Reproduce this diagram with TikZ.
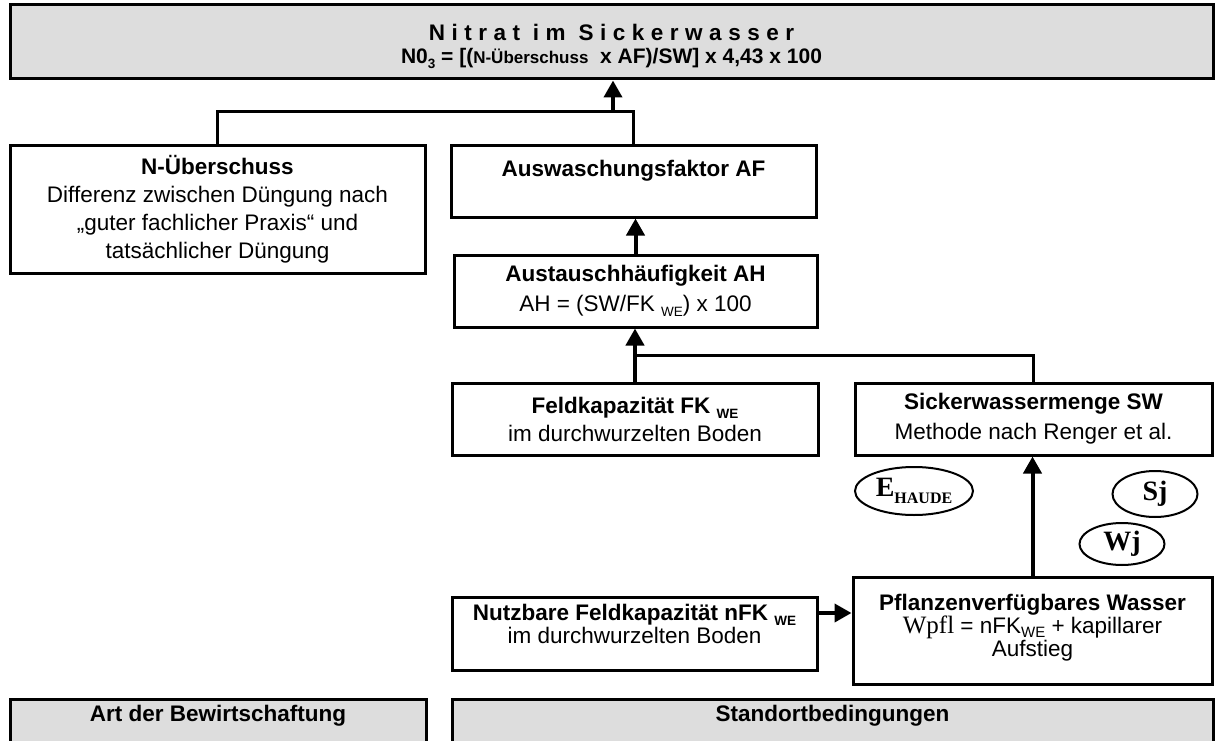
\documentclass[tikz,border=0pt]{standalone}
\usepackage{fontspec}
\setmainfont{Liberation Sans}
\newfontfamily\timesfont{Liberation Serif}
\usetikzlibrary{arrows.meta,shapes.geometric}
\definecolor{panelgray}{HTML}{DDDDDD}
% small lowered index such as "WE"
\newcommand{\lowidx}[1]{\raisebox{-0.45ex}{\fontsize{13.5}{13.5}\selectfont #1}}

\begin{document}
\begin{tikzpicture}[x=1pt,y=-1pt,
  box/.style={draw=black, line width=3pt, align=center, inner sep=0pt,
    font=\fontsize{22.5}{28}\selectfont},
  panel/.style={box, fill=panelgray},
  link/.style={line width=3pt},
  flow/.style={line width=4pt, -{Triangle[width=18pt,length=17pt]}},
  oval/.style={draw, ellipse, line width=2pt, inner sep=0pt,
    font=\timesfont\bfseries\fontsize{28}{28}\selectfont},
]
\clip (0,0) rectangle (1216,741);

% headline box
\node[panel, minimum width=1203pt, minimum height=74pt] (top) at (611.5,42)
  {\bfseries\rule{0pt}{26pt}{\addfontfeature{LetterSpace=29}Nitrat im Sickerwasser}\\[-5pt]
   \fontsize{21}{28}\selectfont\bfseries N0\lowidx{3} = [({\fontsize{17}{17}\selectfont N-Überschuss}\ \ x AF)/SW] x 4,43 x 100};

% first level
\node[box, minimum width=415pt, minimum height=127pt] (nue) at (217.5,209.5)
  {\textbf{N-Überschuss}\\Differenz zwischen Düngung nach\\„guter fachlicher Praxis“ und\\tatsächlicher Düngung};
\node[box, minimum width=365pt, minimum height=71pt] (af) at (633.5,181.5)
  {\textbf{Auswaschungsfaktor AF}\\[-2pt]\mbox{}};

% exchange frequency
\node[box, minimum width=363pt, minimum height=72pt, font=\fontsize{22.5}{30}\selectfont] (ah) at (635.5,291)
  {\textbf{Austauschhäufigkeit AH}\\AH = (SW/FK \lowidx{WE}) x 100};

% field capacity and seepage
\node[box, minimum width=366pt, minimum height=72pt] (feld) at (635,419)
  {\textbf{Feldkapazität FK \lowidx{WE}}\\im durchwurzelten Boden};
\node[box, minimum width=357pt, minimum height=72pt, font=\fontsize{22.5}{30}\selectfont] (sw) at (1033.5,419)
  {\textbf{Sickerwassermenge SW}\\Methode nach Renger et al.};

% climate inputs
\node[oval, minimum width=118pt, minimum height=48pt] (eh) at (914,491)
  {E{\fontsize{16}{16}\selectfont\raisebox{-7pt}{HAUDE}}};
\node[oval, minimum width=85pt, minimum height=46pt] (sj) at (1155,494) {Sj};
\node[oval, minimum width=85pt, minimum height=42pt] (wj) at (1122,544) {Wj};

% plant available water
\node[box, minimum width=365pt, minimum height=73pt, font=\fontsize{22.5}{23}\selectfont] (nfk) at (634.5,633.5)
  {\textbf{Nutzbare Feldkapazität nFK \lowidx{WE}}\\im durchwurzelten Boden\\[-3pt]\mbox{}};
\node[box, minimum width=359pt, minimum height=107pt, font=\fontsize{22.5}{23}\selectfont] (pfl) at (1032.5,630.5)
  {\textbf{Pflanzenverfügbares Wasser}\\{\timesfont\fontsize{25}{23}\selectfont Wpfl} = nFK\raisebox{-0.3ex}{\fontsize{15}{15}\selectfont WE} + kapillarer\\Aufstieg\\[-13pt]\mbox{}};

% bottom panels, running past the lower edge
\node[panel, anchor=north, minimum width=416pt, text height=22pt, text depth=60pt] (art) at (218,698)
  {\textbf{Art der Bewirtschaftung}};
\node[panel, anchor=north, minimum width=761pt, text height=22pt, text depth=60pt] (std) at (832.5,698)
  {\textbf{Standortbedingungen}};

% connectors
\coordinate (j1) at (613,112);
\coordinate (j2) at (635,355);
\coordinate (ar) at (0,613);
\draw[link] (nue.north) |- (j1) -| (af.north);
\draw[flow] (j1) -- (j1 |- top.south);
\draw[flow] (ah.north) -- (ah.north |- af.south);
\draw[link] (sw.north) |- (j2);
\draw[flow] (feld.north) -- (feld.north |- ah.south);
\draw[flow] (pfl.north) -- (pfl.north |- sw.south);
\draw[flow] (nfk.east |- ar) -- (pfl.west |- ar);
\end{tikzpicture}
\end{document}
